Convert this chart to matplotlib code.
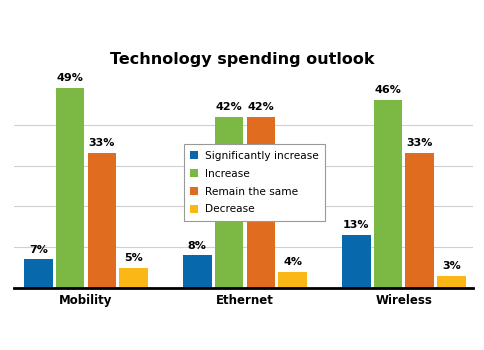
import matplotlib.pyplot as plt
import numpy as np

categories = ["Mobility", "Ethernet", "Wireless"]
series = ["Significantly increase", "Increase", "Remain the same", "Decrease"]
sig_increase = [7, 8, 13]
increase = [49, 42, 46]
remain_same = [33, 42, 33]
decrease = [5, 4, 3]
colors = ["#0868ac", "#7cb844", "#e06c1f", "#fbb716"]

values = [sig_increase, increase, remain_same, decrease]

fig = plt.figure(figsize=(4.85, 3.5), dpi=100)
ax = fig.add_axes([0.029, 0.177, 0.946, 0.583])

x = np.arange(len(categories))
width = 0.18
step = 0.2
for i, (name, vals, c) in enumerate(zip(series, values, colors)):
    pos = x + (i - 1.5) * step
    bars = ax.bar(pos, vals, width, color=c, label=name, zorder=3)
    for b, v in zip(bars, vals):
        ax.text(b.get_x() + b.get_width() / 2, v + 1.2, f"{v}%",
                ha="center", va="bottom", fontsize=8, fontweight="bold")

ax.set_xlim(-0.453, 2.434)
ax.set_ylim(0, 50)
ax.set_yticks([10, 20, 30, 40])
ax.yaxis.grid(True, color="#d0d0d0", linewidth=0.8, zorder=0)
ax.tick_params(axis="y", left=False, labelleft=False)
ax.tick_params(axis="x", length=0, pad=4)
ax.set_xticks(x)
ax.set_xticklabels(categories, fontsize=8.5, fontweight="bold")
for s in ["top", "right", "left"]:
    ax.spines[s].set_visible(False)
ax.spines["bottom"].set_linewidth(2)
ax.spines["bottom"].set_zorder(4)

fig.text(0.5, 0.83, "Technology spending outlook", ha="center", va="center",
         fontsize=11.5, fontweight="bold")

leg = ax.legend(loc="upper left", bbox_to_anchor=(0.358, 0.73), fontsize=7.6,
                frameon=True, fancybox=False, framealpha=1, handlelength=0.8,
                handleheight=0.8, handletextpad=0.6, borderpad=0.6,
                labelspacing=0.75)
leg.get_frame().set_edgecolor("#999999")
leg.get_frame().set_linewidth(0.8)
leg.set_zorder(5)

fig.savefig("out.png", dpi=100)
